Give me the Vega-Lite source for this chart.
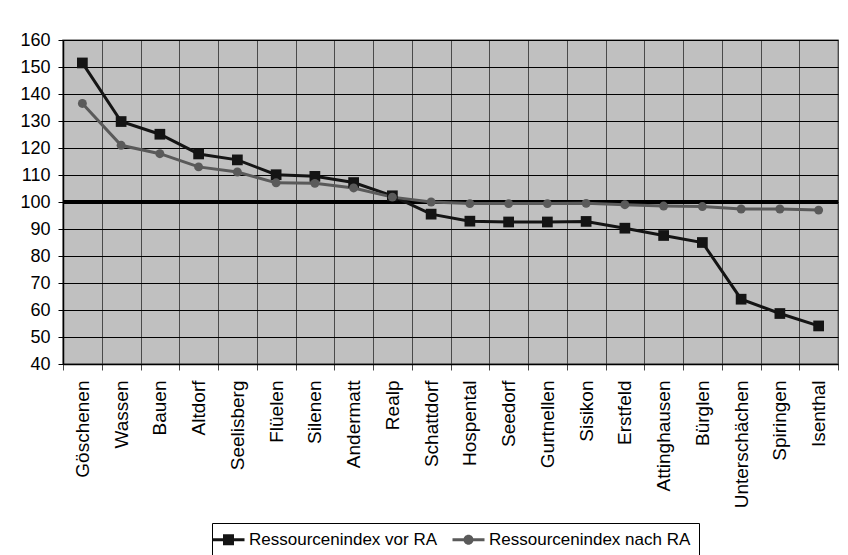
{
  "$schema": "https://vega.github.io/schema/vega-lite/v6.json",
  "width": 775,
  "height": 324,
  "autosize": {"type": "none"},
  "padding": {"left": 63, "top": 40, "right": 10, "bottom": 191},
  "background": "white",
  "config": {
    "view": {"fill": "#c0c0c0", "stroke": "#808080", "strokeWidth": 1.5},
    "font": "Liberation Sans"
  },
  "data": {
    "values": [
      {"Gemeinde": "Göschenen", "Serie": "Ressourcenindex vor RA", "Wert": 151.5},
      {"Gemeinde": "Wassen", "Serie": "Ressourcenindex vor RA", "Wert": 129.8},
      {"Gemeinde": "Bauen", "Serie": "Ressourcenindex vor RA", "Wert": 125.1},
      {"Gemeinde": "Altdorf", "Serie": "Ressourcenindex vor RA", "Wert": 117.8},
      {"Gemeinde": "Seelisberg", "Serie": "Ressourcenindex vor RA", "Wert": 115.6},
      {"Gemeinde": "Flüelen", "Serie": "Ressourcenindex vor RA", "Wert": 110.1},
      {"Gemeinde": "Silenen", "Serie": "Ressourcenindex vor RA", "Wert": 109.5},
      {"Gemeinde": "Andermatt", "Serie": "Ressourcenindex vor RA", "Wert": 107.2},
      {"Gemeinde": "Realp", "Serie": "Ressourcenindex vor RA", "Wert": 102.3},
      {"Gemeinde": "Schattdorf", "Serie": "Ressourcenindex vor RA", "Wert": 95.5},
      {"Gemeinde": "Hospental", "Serie": "Ressourcenindex vor RA", "Wert": 92.9},
      {"Gemeinde": "Seedorf", "Serie": "Ressourcenindex vor RA", "Wert": 92.6},
      {"Gemeinde": "Gurtnellen", "Serie": "Ressourcenindex vor RA", "Wert": 92.6},
      {"Gemeinde": "Sisikon", "Serie": "Ressourcenindex vor RA", "Wert": 92.8},
      {"Gemeinde": "Erstfeld", "Serie": "Ressourcenindex vor RA", "Wert": 90.3},
      {"Gemeinde": "Attinghausen", "Serie": "Ressourcenindex vor RA", "Wert": 87.6},
      {"Gemeinde": "Bürglen", "Serie": "Ressourcenindex vor RA", "Wert": 85.0},
      {"Gemeinde": "Unterschächen", "Serie": "Ressourcenindex vor RA", "Wert": 64.0},
      {"Gemeinde": "Spiringen", "Serie": "Ressourcenindex vor RA", "Wert": 58.7},
      {"Gemeinde": "Isenthal", "Serie": "Ressourcenindex vor RA", "Wert": 54.1},
      {"Gemeinde": "Göschenen", "Serie": "Ressourcenindex nach RA", "Wert": 136.5},
      {"Gemeinde": "Wassen", "Serie": "Ressourcenindex nach RA", "Wert": 121.0},
      {"Gemeinde": "Bauen", "Serie": "Ressourcenindex nach RA", "Wert": 117.9},
      {"Gemeinde": "Altdorf", "Serie": "Ressourcenindex nach RA", "Wert": 113.0},
      {"Gemeinde": "Seelisberg", "Serie": "Ressourcenindex nach RA", "Wert": 111.1},
      {"Gemeinde": "Flüelen", "Serie": "Ressourcenindex nach RA", "Wert": 107.1},
      {"Gemeinde": "Silenen", "Serie": "Ressourcenindex nach RA", "Wert": 106.9},
      {"Gemeinde": "Andermatt", "Serie": "Ressourcenindex nach RA", "Wert": 105.2},
      {"Gemeinde": "Realp", "Serie": "Ressourcenindex nach RA", "Wert": 101.8},
      {"Gemeinde": "Schattdorf", "Serie": "Ressourcenindex nach RA", "Wert": 100.0},
      {"Gemeinde": "Hospental", "Serie": "Ressourcenindex nach RA", "Wert": 99.4},
      {"Gemeinde": "Seedorf", "Serie": "Ressourcenindex nach RA", "Wert": 99.4},
      {"Gemeinde": "Gurtnellen", "Serie": "Ressourcenindex nach RA", "Wert": 99.4},
      {"Gemeinde": "Sisikon", "Serie": "Ressourcenindex nach RA", "Wert": 99.5},
      {"Gemeinde": "Erstfeld", "Serie": "Ressourcenindex nach RA", "Wert": 99.0},
      {"Gemeinde": "Attinghausen", "Serie": "Ressourcenindex nach RA", "Wert": 98.5},
      {"Gemeinde": "Bürglen", "Serie": "Ressourcenindex nach RA", "Wert": 98.3},
      {"Gemeinde": "Unterschächen", "Serie": "Ressourcenindex nach RA", "Wert": 97.4},
      {"Gemeinde": "Spiringen", "Serie": "Ressourcenindex nach RA", "Wert": 97.4},
      {"Gemeinde": "Isenthal", "Serie": "Ressourcenindex nach RA", "Wert": 97.0}
    ]
  },
  "encoding": {
    "x": {
      "field": "Gemeinde",
      "type": "nominal",
      "sort": null,
      "scale": {"paddingInner": 0, "paddingOuter": 0},
      "axis": {
        "title": null,
        "tickBand": "extent",
        "grid": true,
        "gridColor": "#4a4a4a",
        "gridWidth": 1,
        "gridOpacity": 1,
        "domain": true,
        "domainColor": "#000000",
        "domainWidth": 1.5,
        "ticks": true,
        "tickColor": "#4a4a4a",
        "tickSize": 6,
        "tickWidth": 1,
        "labelAngle": 270,
        "labelAlign": "right",
        "labelBaseline": "middle",
        "labelPadding": 10,
        "labelFont": "Liberation Sans",
        "labelFontSize": 19,
        "labelColor": "#000000",
        "labelLimit": 0
      }
    },
    "y": {
      "field": "Wert",
      "type": "quantitative",
      "scale": {"domain": [40, 160], "nice": false, "zero": false},
      "axis": {
        "title": null,
        "values": [40, 50, 60, 70, 80, 90, 100, 110, 120, 130, 140, 150, 160],
        "grid": true,
        "gridColor": "#000000",
        "gridWidth": 1,
        "gridOpacity": 1,
        "domain": true,
        "domainColor": "#000000",
        "domainWidth": 1.5,
        "tickColor": "#000000",
        "tickSize": 5,
        "tickWidth": 1,
        "labelPadding": 8,
        "labelFont": "Liberation Sans",
        "labelFontSize": 18,
        "labelColor": "#000000"
      }
    }
  },
  "layer": [
    {
      "mark": {"type": "rule", "color": "#000000", "strokeWidth": 2.5},
      "encoding": {"y": {"datum": 100}, "x": null}
    },
    {
      "mark": {"type": "line", "strokeWidth": 3},
      "encoding": {
        "color": {
          "field": "Serie",
          "type": "nominal",
          "scale": {
            "domain": ["Ressourcenindex vor RA", "Ressourcenindex nach RA"],
            "range": ["#141414", "#5a5a5a"]
          },
          "legend": {
            "title": null,
            "orient": "none",
            "legendX": 149,
            "legendY": 483,
            "direction": "horizontal",
            "strokeColor": "#000000",
            "fillColor": "#ffffff",
            "padding": 8,
            "labelFont": "Liberation Sans",
            "labelFontSize": 17,
            "labelColor": "#000000",
            "labelLimit": 0,
            "labelOffset": 12,
            "columnPadding": 14,
            "symbolSize": 100,
            "symbolStrokeWidth": 0
          }
        }
      }
    },
    {
      "transform": [{"filter": "datum.Serie === 'Ressourcenindex vor RA'"}],
      "mark": {"type": "point", "filled": true, "opacity": 1, "shape": "square", "size": 115},
      "encoding": {"color": {"field": "Serie", "type": "nominal"}}
    },
    {
      "transform": [{"filter": "datum.Serie === 'Ressourcenindex nach RA'"}],
      "mark": {"type": "point", "filled": true, "opacity": 1, "shape": "circle", "size": 80},
      "encoding": {"color": {"field": "Serie", "type": "nominal"}}
    },
    {
      "transform": [{"filter": "datum.Wert < 0"}],
      "mark": {"type": "point", "filled": true, "opacity": 1},
      "encoding": {
        "color": {"field": "Serie", "type": "nominal"},
        "shape": {
          "field": "Serie",
          "type": "nominal",
          "scale": {
            "domain": ["Ressourcenindex vor RA", "Ressourcenindex nach RA"],
            "range": [
              "M-3.2,-0.3H3.2V0.3H-3.2Z M-1.1,-1.1H1.1V1.1H-1.1Z",
              "M-3.2,-0.3H3.2V0.3H-3.2Z M-1,0A1,1 0 1,1 1,0A1,1 0 1,1 -1,0Z"
            ]
          }
        }
      }
    }
  ]
}
